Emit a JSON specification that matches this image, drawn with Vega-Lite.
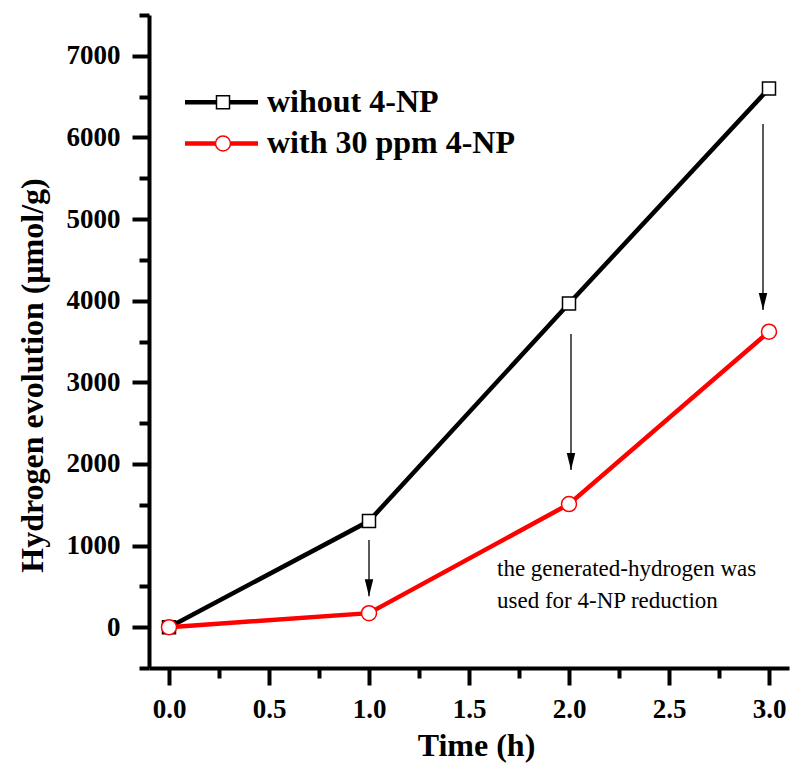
{
  "$schema": "https://vega.github.io/schema/vega-lite/v6.json",
  "width": 640,
  "height": 653,
  "autosize": "none",
  "padding": {"left": 149, "top": 15, "right": 7, "bottom": 98},
  "background": "white",
  "config": {"view": {"stroke": null}, "font": "Liberation Serif"},
  "datasets": {
    "series": [
      {"series": "wihout 4-NP", "time": 0, "h2": 0},
      {"series": "wihout 4-NP", "time": 1, "h2": 1300},
      {"series": "wihout 4-NP", "time": 2, "h2": 3965},
      {"series": "wihout 4-NP", "time": 3, "h2": 6600},
      {"series": "with 30 ppm 4-NP", "time": 0, "h2": 0},
      {"series": "with 30 ppm 4-NP", "time": 1, "h2": 172},
      {"series": "with 30 ppm 4-NP", "time": 2, "h2": 1508},
      {"series": "with 30 ppm 4-NP", "time": 3, "h2": 3620}
    ],
    "arrows": [
      {"ax": 1.0, "top": 1067, "tip": 380},
      {"ax": 2.01, "top": 3592, "tip": 1925},
      {"ax": 2.97, "top": 6166, "tip": 3886}
    ]
  },
  "layer": [
    {
      "data": {"name": "arrows"},
      "mark": {"type": "rule", "strokeWidth": 1.3, "color": "black"},
      "encoding": {
        "x": {
          "field": "ax", "type": "quantitative",
          "scale": {"domain": [-0.1, 3.1], "nice": false, "zero": false},
          "axis": {
            "values": [0, 0.25, 0.5, 0.75, 1, 1.25, 1.5, 1.75, 2, 2.25, 2.5, 2.75, 3],
            "labelExpr": "datum.value * 2 % 1 === 0 ? format(datum.value, '.1f') : ''",
            "tickSize": {"condition": {"test": "datum.value * 2 % 1 === 0", "value": 17}, "value": 10},
            "tickWidth": 4, "tickColor": "black",
            "domainWidth": 4, "domainColor": "black",
            "grid": false,
            "labelFont": "Liberation Serif", "labelFontWeight": "bold", "labelFontSize": 27, "labelColor": "black",
            "labelPadding": 11, "labelFlush": false, "labelOverlap": false, "labelBound": false,
            "title": "Time (h)",
            "titleFont": "Liberation Serif", "titleFontWeight": "bold", "titleFontSize": 32, "titleColor": "black",
            "titleX": 327, "titleY": 77, "titleBaseline": "middle"
          }
        },
        "y": {
          "field": "top", "type": "quantitative",
          "scale": {"domain": [-500, 7500], "nice": false, "zero": false},
          "axis": {
            "values": [-500, 0, 500, 1000, 1500, 2000, 2500, 3000, 3500, 4000, 4500, 5000, 5500, 6000, 6500, 7000, 7500],
            "format": "d",
            "labelExpr": "datum.value % 1000 === 0 ? datum.label : ''",
            "tickSize": {"condition": {"test": "datum.value % 1000 === 0", "value": 17}, "value": 10},
            "tickWidth": 4, "tickColor": "black",
            "domainWidth": 4, "domainColor": "black",
            "grid": false,
            "labelFont": "Liberation Serif", "labelFontWeight": "bold", "labelFontSize": 27, "labelColor": "black",
            "labelPadding": 12, "labelOverlap": false, "labelBound": false, "labelFlush": false,
            "title": "Hydrogen evolution (μmol/g)",
            "titleFont": "Liberation Serif", "titleFontWeight": "bold", "titleFontSize": 32, "titleColor": "black",
            "titleX": -117, "titleY": 360, "titleBaseline": "middle", "titleAlign": "center"
          }
        },
        "y2": {"field": "tip"}
      }
    },
    {
      "data": {"name": "arrows"},
      "mark": {"type": "point", "shape": "M-0.5,-2L0.5,-2L0,0Z", "size": 289, "filled": true, "color": "black", "opacity": 1},
      "encoding": {
        "x": {"field": "ax", "type": "quantitative"},
        "y": {"field": "tip", "type": "quantitative"}
      }
    },
    {
      "data": {"name": "series"},
      "mark": {"type": "line", "strokeWidth": 4.5},
      "encoding": {
        "x": {"field": "time", "type": "quantitative"},
        "y": {"field": "h2", "type": "quantitative"},
        "color": {
          "field": "series", "type": "nominal",
          "scale": {"domain": ["wihout 4-NP", "with 30 ppm 4-NP"], "range": ["#000000", "#ff0000"]},
          "legend": null
        }
      }
    },
    {
      "data": {"name": "series"},
      "mark": {"type": "point", "filled": false, "fill": "white", "fillOpacity": 1, "opacity": 1, "strokeWidth": 1.5},
      "encoding": {
        "x": {"field": "time", "type": "quantitative"},
        "y": {"field": "h2", "type": "quantitative"},
        "color": {"field": "series", "type": "nominal", "legend": null},
        "shape": {
          "field": "series", "type": "nominal",
          "scale": {"domain": ["wihout 4-NP", "with 30 ppm 4-NP"], "range": ["square", "circle"]},
          "legend": null
        },
        "size": {
          "field": "series", "type": "nominal",
          "scale": {"domain": ["wihout 4-NP", "with 30 ppm 4-NP"], "range": [169, 225]},
          "legend": null
        }
      }
    },
    {
      "data": {"values": [{}]},
      "mark": {"type": "rule", "strokeWidth": 4.5, "color": "black"},
      "encoding": {"x": {"datum": 0.08}, "x2": {"datum": 0.445}, "y": {"datum": 6430}}
    },
    {
      "data": {"values": [{}]},
      "mark": {"type": "point", "shape": "square", "size": 169, "filled": false, "fill": "white", "fillOpacity": 1, "stroke": "black", "strokeWidth": 1.5, "opacity": 1},
      "encoding": {"x": {"datum": 0.27}, "y": {"datum": 6430}}
    },
    {
      "data": {"values": [{}]},
      "mark": {"type": "text", "text": "wihout 4-NP", "font": "Liberation Serif", "fontWeight": "bold", "fontSize": 32, "align": "left", "baseline": "middle", "color": "black"},
      "encoding": {"x": {"datum": 0.49}, "y": {"datum": 6430}}
    },
    {
      "data": {"values": [{}]},
      "mark": {"type": "rule", "strokeWidth": 4.5, "color": "#ff0000"},
      "encoding": {"x": {"datum": 0.08}, "x2": {"datum": 0.445}, "y": {"datum": 5926}}
    },
    {
      "data": {"values": [{}]},
      "mark": {"type": "point", "shape": "circle", "size": 225, "filled": false, "fill": "white", "fillOpacity": 1, "stroke": "#ff0000", "strokeWidth": 1.5, "opacity": 1},
      "encoding": {"x": {"datum": 0.27}, "y": {"datum": 5926}}
    },
    {
      "data": {"values": [{}]},
      "mark": {"type": "text", "text": "with 30 ppm 4-NP", "font": "Liberation Serif", "fontWeight": "bold", "fontSize": 32, "align": "left", "baseline": "middle", "color": "black"},
      "encoding": {"x": {"datum": 0.49}, "y": {"datum": 5926}}
    },
    {
      "data": {"values": [{}]},
      "mark": {"type": "text", "text": "the generated-hydrogen was", "font": "Liberation Serif", "fontSize": 23, "align": "left", "baseline": "alphabetic", "color": "black"},
      "encoding": {"x": {"datum": 1.64}, "y": {"datum": 625}}
    },
    {
      "data": {"values": [{}]},
      "mark": {"type": "text", "text": "used for 4-NP reduction", "font": "Liberation Serif", "fontSize": 23, "align": "left", "baseline": "alphabetic", "color": "black"},
      "encoding": {"x": {"datum": 1.64}, "y": {"datum": 233}}
    }
  ]
}
